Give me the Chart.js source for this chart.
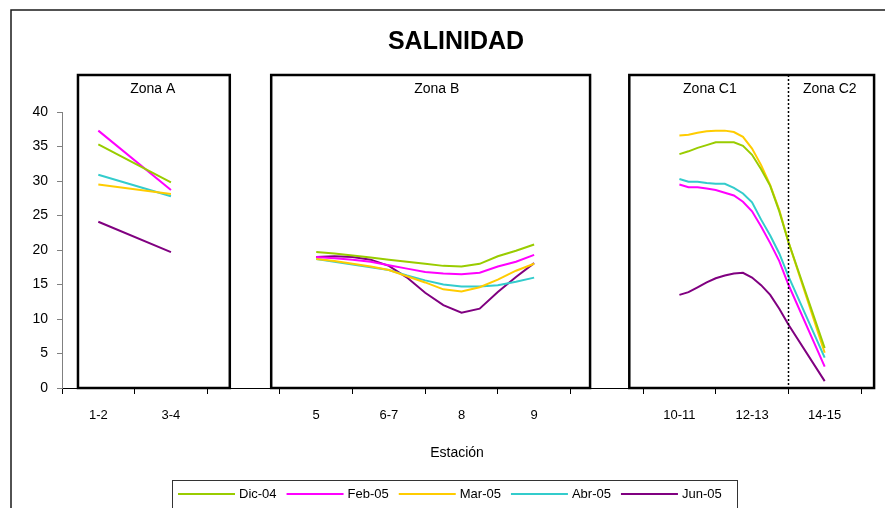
<!DOCTYPE html>
<html>
<head>
<meta charset="utf-8">
<script src="https://cdn.jsdelivr.net/npm/chart.js@4.4.1/dist/chart.umd.min.js"></script>
<style>
  html, body { margin: 0; padding: 0; background: #fff; }
  canvas { display: block; }
</style>
</head>
<body>
<canvas id="c" width="885" height="508"></canvas>
<script>
// Station labels (one per category slot; blank slots separate the zones)
const stations = ['1-2', '3-4', '', '5', '6-7', '8', '9', '', '10-11', '12-13', '14-15'];
const seriesNames = ['Dic-04', 'Feb-05', 'Mar-05', 'Abr-05', 'Jun-05'];
const seriesColors = ['#99CC00', '#FF00FF', '#FFCC00', '#33CCCC', '#800080'];

// Sampling positions along the station axis (slot k is centred on k + 0.5).
// The entries at 2.5 and 7.5 carry no value and break the line between zones.
const samplePos = [
  0.5, 1.5,
  2.5,
  3.5, 3.75, 4, 4.25, 4.5, 4.75, 5, 5.25, 5.5, 5.75, 6, 6.25, 6.5,
  7.5,
  8.5, 8.625, 8.75, 8.875, 9, 9.125, 9.25, 9.375, 9.5, 9.625, 9.75, 9.875, 10, 10.5
];

// Salinity per campaign
const dic04 = [35.3, 29.8, null,
  19.7, 19.5, 19.2, 18.9, 18.6, 18.3, 18.0, 17.7, 17.6, 18.0, 19.1, 19.9, 20.8, null,
  33.9, 34.3, 34.8, 35.2, 35.6, 35.6, 35.6, 35.1, 33.8, 31.7, 29.3, 25.6, 21.2, 5.8];
const feb05 = [37.3, 28.7, null,
  19.0, 18.8, 18.6, 18.3, 17.8, 17.3, 16.8, 16.6, 16.5, 16.7, 17.6, 18.3, 19.3, null,
  29.5, 29.1, 29.1, 28.9, 28.7, 28.3, 27.9, 27.0, 25.6, 23.4, 21.0, 18.4, 15.0, 3.1];
const mar05 = [29.5, 28.1, null,
  18.7, 18.4, 18.0, 17.6, 17.1, 16.2, 15.3, 14.3, 14.0, 14.6, 15.7, 17.0, 18.0, null,
  36.6, 36.7, 37.0, 37.2, 37.3, 37.3, 37.1, 36.4, 34.7, 32.3, 29.4, 25.8, 21.2, 5.1];
const abr05 = [30.9, 27.8, null,
  18.7, 18.3, 17.9, 17.5, 17.1, 16.3, 15.6, 15.0, 14.7, 14.7, 14.9, 15.4, 16.0, null,
  30.3, 29.9, 29.9, 29.7, 29.6, 29.6, 29.0, 28.2, 26.9, 24.4, 22.1, 19.5, 16.2, 4.4];
const jun05 = [24.1, 19.7, null,
  19.0, 19.1, 19.0, 18.6, 17.7, 16.0, 13.8, 12.0, 10.9, 11.5, 13.9, 16.1, 18.1, null,
  13.5, 13.9, 14.6, 15.3, 15.9, 16.3, 16.6, 16.7, 16.0, 14.9, 13.5, 11.5, 9.2, 1.0];

const seriesValues = [dic04, feb05, mar05, abr05, jun05];

const FONT = '"Liberation Sans", Arial, sans-serif';

// Zone frames, in station-axis units
const zones = [
  { name: 'Zona A', from: 0.22, to: 2.31 },
  { name: 'Zona B', from: 2.88, to: 7.27 },
  { name: 'Zona C1', from: 7.81, to: 11.18 }
];
const zoneLabels = [
  { text: 'Zona A', at: 1.25 },
  { text: 'Zona B', at: 5.16 },
  { text: 'Zona C1', at: 8.92 },
  { text: 'Zona C2', at: 10.57 }
];
const zoneDivider = 10;

const decorations = {
  id: 'decorations',
  afterDraw(chart) {
    const { ctx, chartArea, scales } = chart;
    const xs = scales.x;
    const top = chartArea.top - 37;
    const bottom = chartArea.bottom;
    ctx.save();

    // outer frame
    ctx.strokeStyle = '#1a1a1a';
    ctx.lineWidth = 1.5;
    ctx.beginPath();
    ctx.moveTo(11, 508);
    ctx.lineTo(11, 10);
    ctx.lineTo(885, 10);
    ctx.stroke();

    // title
    ctx.fillStyle = '#000';
    ctx.font = 'bold 25px ' + FONT;
    ctx.textAlign = 'center';
    ctx.textBaseline = 'middle';
    ctx.fillText('SALINIDAD', 456, 42);

    // zone frames
    ctx.strokeStyle = '#000';
    ctx.lineWidth = 2.5;
    zones.forEach(z => {
      const l = xs.getPixelForValue(z.from);
      const r = xs.getPixelForValue(z.to);
      ctx.strokeRect(l, top, r - l, bottom - top);
    });

    // dotted divider between C1 and C2
    const dx = Math.round(xs.getPixelForValue(zoneDivider)) + 0.5;
    ctx.lineWidth = 1.5;
    ctx.setLineDash([2, 2]);
    ctx.beginPath();
    ctx.moveTo(dx, top);
    ctx.lineTo(dx, bottom);
    ctx.stroke();
    ctx.setLineDash([]);

    // zone names
    ctx.font = '14px ' + FONT;
    ctx.fillStyle = '#000';
    zoneLabels.forEach(z => {
      ctx.fillText(z.text, xs.getPixelForValue(z.at), top + 14);
    });

    // axis title
    ctx.font = '14px ' + FONT;
    ctx.fillText('Estación', 457, 453);

    // legend
    const lx = 172, ly = 480;
    ctx.strokeStyle = '#333';
    ctx.lineWidth = 1;
    ctx.strokeRect(lx + 0.5, ly + 0.5, 737 - lx, 40);
    ctx.font = '13px ' + FONT;
    ctx.textAlign = 'left';
    let x = 178;
    const cy = 494;
    chart.data.datasets.forEach(ds => {
      ctx.strokeStyle = ds.borderColor;
      ctx.lineWidth = 2;
      ctx.beginPath();
      ctx.moveTo(x, cy);
      ctx.lineTo(x + 57, cy);
      ctx.stroke();
      ctx.fillStyle = '#000';
      ctx.fillText(ds.label, x + 61, cy);
      x += 61 + ctx.measureText(ds.label).width + 10;
    });

    ctx.restore();
  }
};

const datasets = seriesNames.map((name, i) => ({
  label: name,
  data: samplePos.map((p, j) => ({ x: p, y: seriesValues[i][j] })),
  borderColor: seriesColors[i],
  backgroundColor: seriesColors[i],
  borderWidth: 2,
  pointRadius: 0,
  tension: 0,
  spanGaps: false,
  fill: false
}));

new Chart(document.getElementById('c'), {
  type: 'line',
  data: { datasets },
  options: {
    responsive: false,
    animation: false,
    layout: { padding: { left: 0, top: 112, right: 24, bottom: 0 } },
    plugins: { legend: { display: false }, tooltip: { enabled: false }, title: { display: false } },
    scales: {
      x: {
        type: 'linear',
        min: 0,
        max: stations.length,
        afterBuildTicks: axis => {
          const t = [];
          for (let v = 0; v <= stations.length; v += 0.5) t.push({ value: v });
          axis.ticks = t;
        },
        afterFit: s => { s.height = 120; },
        ticks: {
          autoSkip: false,
          maxRotation: 0,
          color: '#000',
          font: { family: FONT, size: 13 },
          padding: 14,
          callback: v => Number.isInteger(v) ? '' : stations[Math.floor(v)]
        },
        grid: {
          drawOnChartArea: false,
          tickLength: 6,
          tickColor: c => (c.tick && Number.isInteger(c.tick.value)) ? '#000' : 'rgba(0,0,0,0)'
        },
        border: { color: '#000', width: 1 }
      },
      y: {
        min: 0,
        max: 40,
        afterFit: s => { s.width = 62; },
        ticks: {
          stepSize: 5,
          color: '#000',
          font: { family: FONT, size: 14 },
          padding: 9
        },
        grid: { drawOnChartArea: false, tickLength: 5, tickColor: '#808080' },
        border: { color: '#808080', width: 1 }
      }
    }
  },
  plugins: [decorations]
});
</script>
</body>
</html>
